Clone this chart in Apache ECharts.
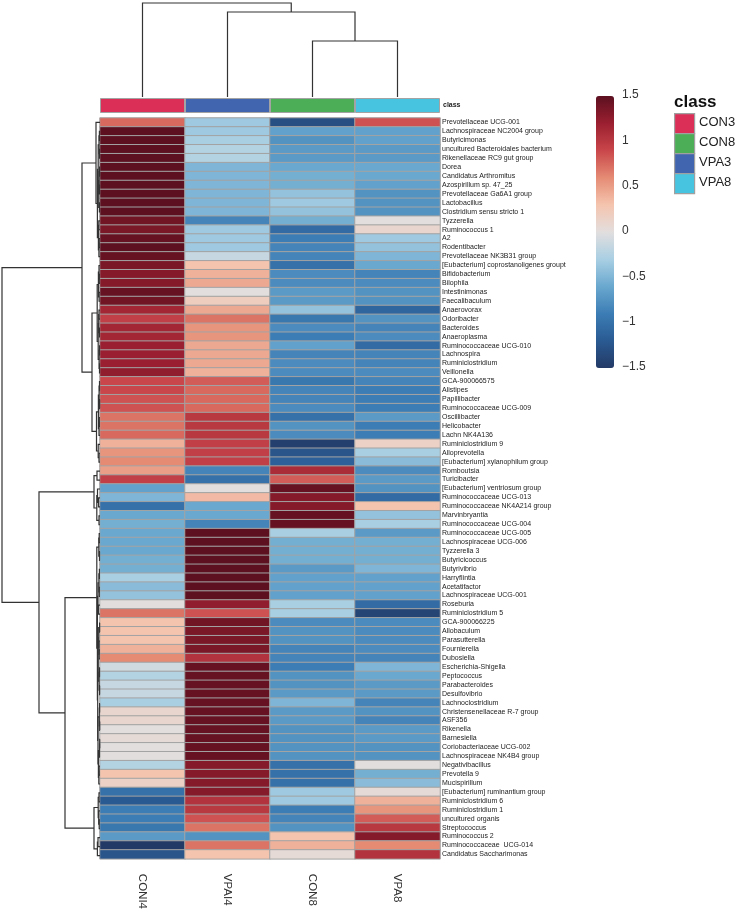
<!DOCTYPE html>
<html><head><meta charset="utf-8">
<script src="https://cdn.jsdelivr.net/npm/echarts@6/dist/echarts.min.js"></script>
<style>html,body{margin:0;padding:0;background:#fff}#c{width:738px;height:912px}</style>
</head><body><div id="c"></div>
<script>
const columns = ['CONI4', 'VPAI4', 'CON8', 'VPA8'];
const columnClass = ['CON3', 'VPA3', 'CON8', 'VPA8'];
const classNames = ['CON3', 'CON8', 'VPA3', 'VPA8'];
const classColors = {CON3: '#DC2F58', CON8: '#4CAF57', VPA3: '#4265AF', VPA8: '#47C4DF'};
const legendTicks = [1.5, 1, 0.5, 0, -0.5, -1, -1.5];

const rowNames = [
'Prevotellaceae UCG-001','Lachnospiraceae NC2004 group','Butyricimonas','uncultured Bacteroidales bacterium','Rikenellaceae RC9 gut group',
'Dorea','Candidatus Arthromitus','Azospirillum sp. 47_25','Prevotellaceae Ga6A1 group','Lactobacillus',
'Clostridium sensu stricto 1','Tyzzerella','Ruminococcus 1','A2','Rodentibacter',
'Prevotellaceae NK3B31 group','[Eubacterium] coprostanoligenes groupt','Bifidobacterium','Bilophila','Intestinimonas',
'Faecalibaculum','Anaerovorax','Odoribacter','Bacteroides','Anaeroplasma',
'Ruminococcaceae UCG-010','Lachnospira','Ruminiclostridium','Veillonella','GCA-900066575',
'Alistipes','Papillibacter','Ruminococcaceae UCG-009','Oscillibacter','Helicobacter',
'Lachn NK4A136','Ruminiclostridium 9','Alloprevotella','[Eubacterium] xylanophilum group','Romboutsia',
'Turicibacter','[Eubacterium] ventriosum group','Ruminococcaceae UCG-013','Ruminococcaceae NK4A214 group','Marvinbryantia',
'Ruminococcaceae UCG-004','Ruminococcaceae UCG-005','Lachnospiraceae UCG-006','Tyzzerella 3','Butyricicoccus',
'Butyrivibrio','Harryflintia','Acetatifactor','Lachnospiraceae UCG-001','Roseburia',
'Ruminiclostridium 5','GCA-900066225','Allobaculum','Parasutterella','Fournierella',
'Dubosiella','Escherichia-Shigella','Peptococcus','Parabacteroides','Desulfovibrio',
'Lachnoclostridium','Christensenellaceae R-7 group','ASF356','Rikenella','Barnesiella',
'Coriobacteriaceae UCG-002','Lachnospiraceae NK4B4 group','Negativibacillus','Prevotella 9','Mucispirillum',
'[Eubacterium] ruminantium group','Ruminiclostridium 6','Ruminiclostridium 1','uncultured organis','Streptococcus',
'Ruminococcus 2','Ruminococcaceae  UCG-014','Candidatus Saccharimonas'
];

const CON4 = [0.75,1.5,1.5,1.5,1.5,1.5,1.5,1.5,1.5,1.5,
1.5,1.4,1.35,1.45,1.5,1.45,1.35,1.3,1.3,1.45,
1.4,1.15,0.95,1.15,1.15,1.2,1.2,1.2,1.25,0.9,
0.9,0.85,0.85,0.7,0.7,0.75,0.4,0.55,0.6,0.5,
0.95,-0.65,-0.5,-1.0,-0.6,-0.55,-0.6,-0.6,-0.6,-0.55,
-0.55,-0.3,-0.45,-0.4,0.0,0.7,0.3,0.3,0.3,0.4,
0.6,-0.1,-0.25,-0.15,-0.15,-0.3,0.1,0.1,0.0,0.05,
0.0,0.0,-0.25,0.3,0.15,-1.0,-1.2,-0.9,-0.9,-0.95,
-0.7,-1.5,-1.25];
const VPA4 = [-0.35,-0.35,-0.3,-0.25,-0.25,-0.5,-0.5,-0.5,-0.5,-0.5,
-0.5,-0.85,-0.35,-0.35,-0.35,-0.15,0.3,0.4,0.45,0.0,
0.2,0.45,0.7,0.55,0.55,0.45,0.45,0.45,0.4,0.8,
0.75,0.75,0.75,1.0,1.0,1.0,0.95,0.95,0.95,-0.85,
-1.0,0.0,0.35,-0.6,-0.6,-0.85,1.5,1.5,1.5,1.5,
1.5,1.5,1.5,1.5,1.25,0.85,1.4,1.35,1.35,1.35,
1.05,1.45,1.45,1.45,1.45,1.45,1.45,1.45,1.45,1.45,
1.45,1.45,1.3,1.3,1.3,1.3,1.05,1.0,0.85,0.7,
-0.75,0.7,0.3];
const CON8 = [-1.3,-0.65,-0.75,-0.7,-0.7,-0.6,-0.55,-0.55,-0.4,-0.35,
-0.4,-0.55,-1.05,-0.9,-0.85,-0.85,-1.0,-0.8,-0.8,-0.7,
-0.7,-0.4,-0.95,-0.8,-0.9,-0.65,-0.85,-0.8,-0.8,-0.95,
-0.85,-0.85,-0.8,-1.0,-0.75,-0.8,-1.45,-1.25,-1.15,1.1,
0.8,1.45,1.3,1.3,1.45,1.45,-0.3,-0.55,-0.55,-0.55,
-0.7,-0.65,-0.65,-0.65,-0.3,-0.3,-0.8,-0.75,-0.75,-0.85,
-0.85,-0.9,-0.75,-0.75,-0.7,-0.5,-0.7,-0.7,-0.75,-0.75,
-0.75,-0.75,-1.0,-1.0,-1.0,-0.35,-0.35,-0.9,-0.85,-0.75,
0.3,0.4,0.05];
const VPA8 = [0.85,-0.65,-0.65,-0.7,-0.7,-0.6,-0.6,-0.65,-0.75,-0.75,
-0.75,0.0,0.1,-0.35,-0.4,-0.5,-0.6,-0.85,-0.8,-0.75,
-0.75,-1.1,-0.75,-0.85,-0.8,-1.05,-0.85,-0.85,-0.8,-0.85,
-0.9,-0.9,-0.9,-0.7,-0.9,-0.9,0.15,-0.3,-0.45,-0.8,
-0.7,-0.75,-1.05,0.3,-0.4,-0.3,-0.7,-0.55,-0.55,-0.55,
-0.5,-0.65,-0.65,-0.65,-1.05,-1.4,-0.8,-0.8,-0.8,-0.8,
-0.85,-0.5,-0.6,-0.7,-0.7,-0.85,-0.75,-0.85,-0.7,-0.7,
-0.75,-0.75,0.0,-0.55,-0.45,0.05,0.4,0.55,0.8,1.0,
1.3,0.6,1.05];

// column dendrogram: [left, right, height]; leaves are column indices
const colTree = [0, [1, [2, 3, 56], 85], 94];
// row dendrogram: [left, right, height]; leaves are row indices
const rowTree = [
  [
    [0, [[[[1,2,0.6],[3,4,0.5],1.0],[[[5,6,0.4],[7,8,0.5],0.9],[9,10,0.6],1.3],1.8],
         [[11,12,1.2],[[13,14,0.8],15,1.1],1.6], 2.6], 4],
    [[[[16,[17,18,0.7],1.0],[19,20,0.9],1.6],[[[21,22,1.0],[23,24,0.6],1.3],[[25,26,0.5],[27,28,0.5],0.9],1.8],2.8],
     [[[[29,30,0.5],[31,32,0.4],0.9],[[33,34,0.7],35,1.0],1.6],[36,[37,38,1.0],1.8],3.5], 8],
    18],
  [
    [[39,40,3],[[41,[42,43,1.5],2.5],[44,45,1.0],3.2],6],
    [
      [[[46,47,0.8],[48,49,0.5],1.2],
       [[[[50,51,0.6],[52,53,0.7],1.1],[54,55,1.6],2.0],
        [[[[56,57,0.4],[58,[59,60,0.8],1.0],1.3],[[61,62,0.5],[63,64,0.4],0.9],1.8],
         [[[65,66,0.4],[67,68,0.3],0.7],[[[69,70,0.3],71,0.5],[[72,73,0.9],74,1.2],1.6],2.0],2.3],2.6],3.2],
      [[[75,76,1.0],[77,[78,79,0.8],1.3],1.8],[[80,81,2.0],82,2.6],6],
      35],
    61],
  98];

function flatten(tree, out) {
  if (typeof tree === 'number') return {pos: tree, h: 0};
  const a = flatten(tree[0], out), b = flatten(tree[1], out);
  out.push([a.pos, b.pos, tree[2], a.h, b.h]);
  return {pos: (a.pos + b.pos) / 2, h: tree[2]};
}
const rowSegs = []; flatten(rowTree, rowSegs);
const colSegs = []; flatten(colTree, colSegs);

const valueCols = [CON4, VPA4, CON8, VPA8];
const heatData = [];
valueCols.forEach((arr, c) => arr.forEach((v, r) => heatData.push([c, r, v])));

const FONT = '"Liberation Sans", Arial, sans-serif';
const palette = ['#233a66','#2a5a92','#3c7db5','#6aa8cf','#a9cfe3','#e2dede','#f5c4ae','#e58b74','#c9464a','#9a1f30','#5c1020'];

const barTop = 96, barH = 272, barLeft = 596;
const graphics = [];
legendTicks.forEach(v => {
  graphics.push({type: 'text', left: barLeft + 26, top: barTop + (1.5 - v) / 3 * barH - 7,
    style: {text: (v < 0 ? '\u2212' + Math.abs(v) : String(v)), fontSize: 12, fontFamily: FONT, fill: '#333'}});
});
graphics.push({type: 'text', left: 674, top: 94, style: {text: 'class', fontSize: 17, fontWeight: 'bold', fontFamily: FONT, fill: '#111'}});
classNames.forEach((n, i) => {
  graphics.push({type: 'rect', left: 674, top: 113 + i * 20, shape: {width: 20, height: 20},
    style: {fill: classColors[n], stroke: '#a0a0a0', lineWidth: 1.2}});
  graphics.push({type: 'text', left: 699, top: 116 + i * 20, style: {text: n, fontSize: 13, fontFamily: FONT, fill: '#222'}});
});
graphics.push({type: 'text', left: 443, top: 102, style: {text: 'class', fontSize: 7, fontWeight: 'bold', fontFamily: FONT, fill: '#222'}});

function rowDendroItem(params, api) {
  const pts = [[api.value(3), api.value(0)], [api.value(2), api.value(0)], [api.value(2), api.value(1)], [api.value(4), api.value(1)]].map(p => api.coord(p));
  return {type: 'polyline', shape: {points: pts}, style: {stroke: '#333', lineWidth: 1.2, fill: null}};
}
function colDendroItem(params, api) {
  const pts = [[api.value(0), api.value(3)], [api.value(0), api.value(2)], [api.value(1), api.value(2)], [api.value(1), api.value(4)]].map(p => api.coord(p));
  return {type: 'polyline', shape: {points: pts}, style: {stroke: '#333', lineWidth: 1.2, fill: null}};
}

const hidden = {show: false};
const option = {
  animation: false,
  backgroundColor: '#fff',
  textStyle: {fontFamily: FONT},
  grid: [
    {left: 100, top: 118, width: 340, height: 742},
    {left: 100, top: 98, width: 340, height: 15},
    {left: 2, top: 118, width: 98, height: 742},
    {left: 100, top: 2, width: 340, height: 95}
  ],
  xAxis: [
    {type: 'category', gridIndex: 0, data: columns, axisLine: hidden, axisTick: hidden, splitLine: hidden,
     axisLabel: {rotate: -90, fontSize: 11.5, color: '#333', margin: 15, fontFamily: FONT}},
    {type: 'category', gridIndex: 1, data: columns, show: false},
    {type: 'value', gridIndex: 2, min: 0, max: 98, inverse: true, show: false},
    {type: 'value', gridIndex: 3, min: -0.5, max: 3.5, show: false}
  ],
  yAxis: [
    {type: 'category', gridIndex: 0, data: rowNames, inverse: true, position: 'right', axisLine: hidden, axisTick: hidden, splitLine: hidden,
     axisLabel: {fontSize: 7, color: '#222', margin: 2, interval: 0, fontFamily: FONT}},
    {type: 'value', gridIndex: 1, min: 0, max: 1, show: false},
    {type: 'value', gridIndex: 2, min: -0.5, max: 82.5, inverse: true, show: false},
    {type: 'value', gridIndex: 3, min: 0, max: 95, show: false}
  ],
  visualMap: {
    type: 'continuous', seriesIndex: 0, min: -1.5, max: 1.5, calculable: false, hoverLink: false,
    left: barLeft, top: barTop, itemWidth: 18, itemHeight: barH, padding: 0, text: null,
    inRange: {color: palette}
  },
  graphic: graphics,
  series: [
    {type: 'heatmap', xAxisIndex: 0, yAxisIndex: 0, data: heatData,
     itemStyle: {borderColor: '#a3a3a3', borderWidth: 1}},
    {type: 'bar', xAxisIndex: 1, yAxisIndex: 1, barWidth: '100%',
     data: columnClass.map(c => ({value: 1, itemStyle: {color: classColors[c]}})),
     itemStyle: {borderColor: '#a3a3a3', borderWidth: 1}},
    {type: 'custom', xAxisIndex: 2, yAxisIndex: 2, data: rowSegs, renderItem: rowDendroItem,
     encode: {x: [2, 3, 4], y: [0, 1]}, clip: false},
    {type: 'custom', xAxisIndex: 3, yAxisIndex: 3, data: colSegs, renderItem: colDendroItem,
     encode: {x: [0, 1], y: [2, 3, 4]}, clip: false}
  ]
};
const chart = echarts.init(document.getElementById('c'));
chart.setOption(option);
</script>
</body></html>
